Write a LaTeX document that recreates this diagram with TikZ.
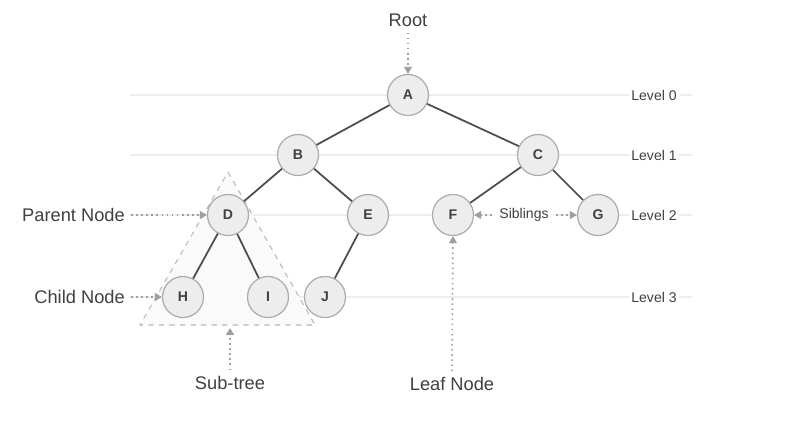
\documentclass[tikz,border=0pt]{standalone}
\usepackage{fontspec}
\setmainfont{Liberation Sans}
\usetikzlibrary{arrows.meta}

\begin{document}
\begin{tikzpicture}[x=0.02cm, y=-0.02cm,
    treenode/.style={circle, draw=gray!65, line width=0.7pt, fill=gray!14,
      minimum size=0.82cm, inner sep=0pt, font=\footnotesize\bfseries, text=black!75},
    edge/.style={draw=black!70, line width=1pt},
    levelline/.style={draw=gray!13, line width=0.6pt},
    levellabel/.style={fill=white, inner sep=1.5pt, font=\footnotesize, text=black!75},
    pointer/.style={draw=gray!75, dotted, line width=0.9pt,
      -{Triangle[length=4pt, width=4.5pt, fill=gray!75]}},
    callout/.style={font=\fontsize{10.4}{12.5}\selectfont, text=black!75}]
    \useasboundingbox (0,0) rectangle (802,434);

    % Level guide lines
    \foreach \y/\n in {95/0, 155/1, 215/2, 297/3} {
        \draw[levelline] (130,\y) -- (692,\y);
        \node[levellabel] (level\n) at (654,\y) {Level \n};
    }

    % Sub-tree outline
    \draw[draw=gray!55, dashed, fill=gray!4, line width=0.6pt]
        (228,172) -- (315,325) -- (140,325) -- cycle;

    % Tree nodes
    \node[treenode] (A) at (408,95) {A};
    \node[treenode] (B) at (298,155) {B};
    \node[treenode] (C) at (538,155) {C};
    \node[treenode] (D) at (228,215) {D};
    \node[treenode] (E) at (368,215) {E};
    \node[treenode] (F) at (453,215) {F};
    \node[treenode] (G) at (598,215) {G};
    \node[treenode] (H) at (183,297) {H};
    \node[treenode] (I) at (268,297) {I};
    \node[treenode] (J) at (325,297) {J};

    % Edges
    \draw[edge] (A) -- (B);
    \draw[edge] (A) -- (C);
    \draw[edge] (B) -- (D);
    \draw[edge] (B) -- (E);
    \draw[edge] (C) -- (F);
    \draw[edge] (C) -- (G);
    \draw[edge] (D) -- (H);
    \draw[edge] (D) -- (I);
    \draw[edge] (E) -- (J);

    % Labels with pointers
    \node[callout] (root) at (408,20) {Root};
    \draw[pointer] (root.south) -- (A.north);

    \node[callout, anchor=east] (parent) at (131,215) {Parent Node};
    \draw[pointer] (parent.east) -- (D.west);

    \node[callout, anchor=east] (child) at (131,297) {Child Node};
    \draw[pointer] (child.east) -- (H.west);

    \node[levellabel, inner sep=4pt] (siblings) at (524,215) {Siblings};
    \draw[pointer] (siblings.west) -- (F.east);
    \draw[pointer] (siblings.east) -- (G.west);

    \coordinate (subtreebase) at (230,328);
    \node[callout] (subtree) at (230,383) {Sub-tree};
    \draw[pointer] (subtree.north) -- (subtreebase);

    \node[callout] (leaf) at (452,384) {Leaf Node};
    \draw[pointer] (leaf.north) -- (F.south);
\end{tikzpicture}
\end{document}
